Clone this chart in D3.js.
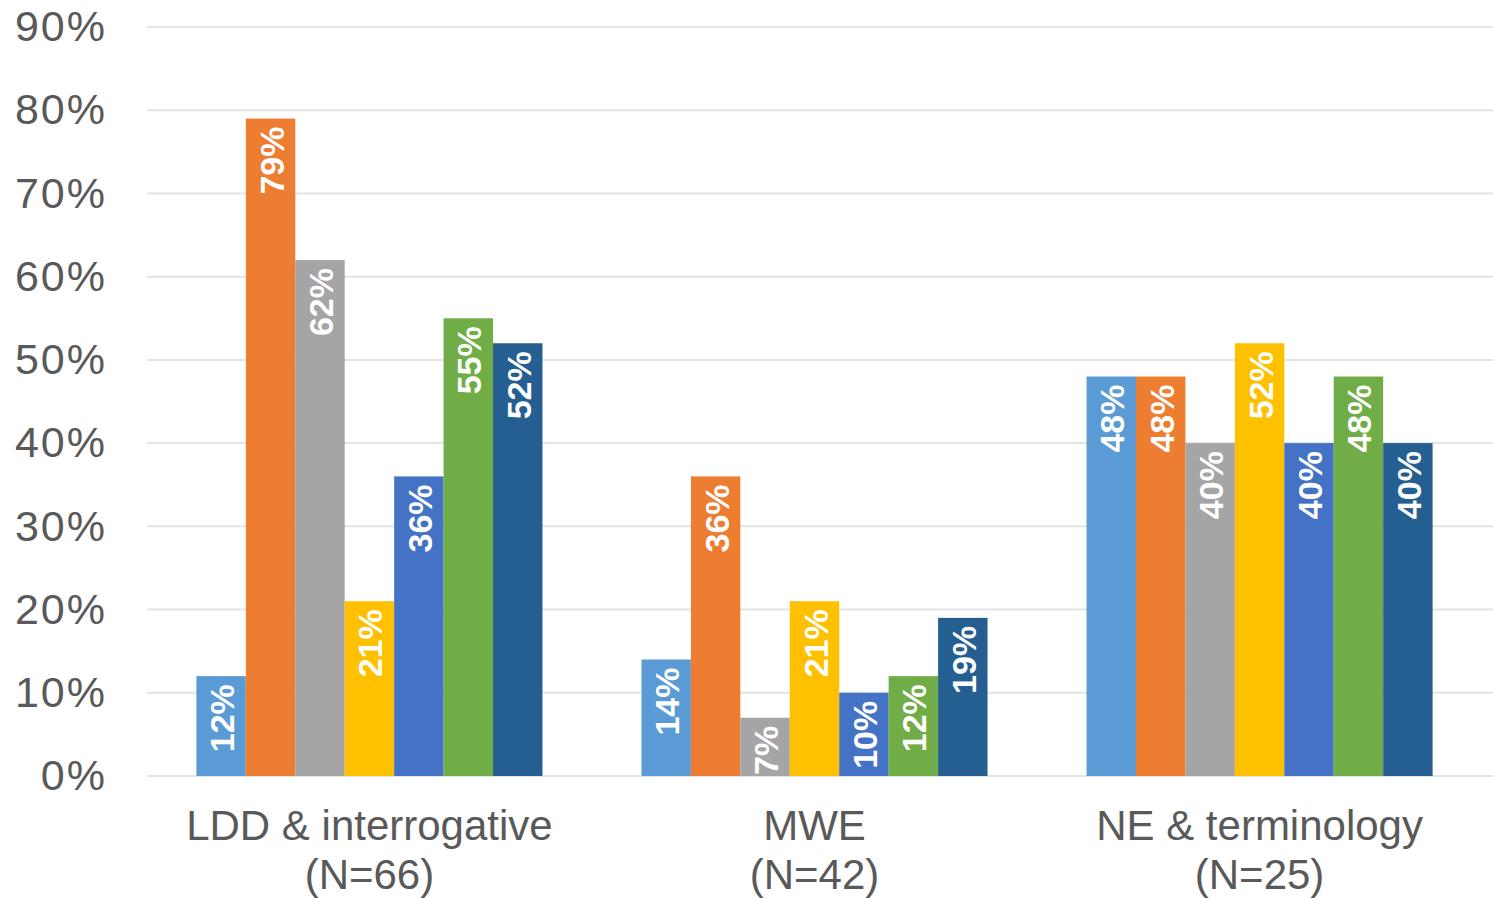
<!DOCTYPE html>
<html><head><meta charset="utf-8">
<script src="https://cdn.jsdelivr.net/npm/d3@7"></script>
<style>body{margin:0;background:#fff}svg{display:block}</style>
</head><body>
<svg id="chart" width="1493" height="898"></svg>
<script>
const categories = [["LDD & interrogative","(N=66)"],["MWE","(N=42)"],["NE & terminology","(N=25)"]];
const seriesNames = ["S1","S2","S3","S4","S5","S6","S7"];
const seriesColors = ["#5B9BD5","#ED7D31","#A5A5A5","#FFC000","#4472C4","#70AD47","#255E91"];
const valuesLDD = [12,79,62,21,36,55,52];
const valuesMWE = [14,36,7,21,10,12,19];
const valuesNE  = [48,48,40,52,40,48,40];
const yTicks = [0,10,20,30,40,50,60,70,80,90];

const allValues = [valuesLDD, valuesMWE, valuesNE];
const svg = d3.select("#chart");
const x0 = d3.scaleBand().domain(d3.range(categories.length)).range([147,1482]).paddingInner(0.2225).paddingOuter(0.111);
const x1 = d3.scaleBand().domain(seriesNames).range([0,x0.bandwidth()]).padding(0);
const y = d3.scaleLinear().domain([0,90]).range([776,27]);

// gridlines
svg.append("g").selectAll("line").data(yTicks).join("line")
  .attr("x1",147).attr("x2",1493)
  .attr("y1",d=>y(d)).attr("y2",d=>y(d))
  .attr("stroke","#e4e4e4").attr("stroke-width",2);

// y axis labels
const yAxis = d3.axisLeft(y).tickValues(yTicks).tickFormat(d=>d+"%").tickSize(0).tickPadding(0);
const ga = svg.append("g").attr("transform","translate(107,0)").call(yAxis);
ga.select(".domain").remove();
ga.selectAll("text").attr("font-family","Liberation Sans, Arial, sans-serif").attr("font-size",43)
  .attr("letter-spacing",2).attr("fill","#595959");

// bars
const groups = svg.append("g").selectAll("g").data(allValues).join("g")
  .attr("transform",(d,i)=>`translate(${x0(i)},0)`);
groups.selectAll("rect").data(d=>d.map((v,j)=>({v,j}))).join("rect")
  .attr("x",d=>x1(seriesNames[d.j])).attr("width",x1.bandwidth())
  .attr("y",d=>y(d.v)).attr("height",d=>y(0)-y(d.v))
  .attr("fill",d=>seriesColors[d.j]);
groups.selectAll("text").data(d=>d.map((v,j)=>({v,j}))).join("text")
  .attr("transform",d=>`translate(${x1(seriesNames[d.j])+x1.bandwidth()/2+1},${y(d.v)+8}) rotate(-90)`)
  .attr("text-anchor","end").attr("dominant-baseline","central")
  .attr("font-family","Liberation Sans, Arial, sans-serif").attr("font-weight","bold")
  .attr("font-size",34).attr("fill","#fff")
  .text(d=>d.v+"%");

// category labels
const cl = svg.append("g").selectAll("text").data(categories).join("text")
  .attr("x",(d,i)=>x0(i)+x0.bandwidth()/2).attr("y",840)
  .attr("text-anchor","middle")
  .attr("font-family","Liberation Sans, Arial, sans-serif").attr("font-size",42).attr("fill","#595959");
cl.selectAll("tspan").data(d=>d).join("tspan")
  .attr("x",function(){return this.parentNode.getAttribute("x");})
  .attr("dy",(d,i)=>i===0?0:49).text(d=>d);
</script>
</body></html>
